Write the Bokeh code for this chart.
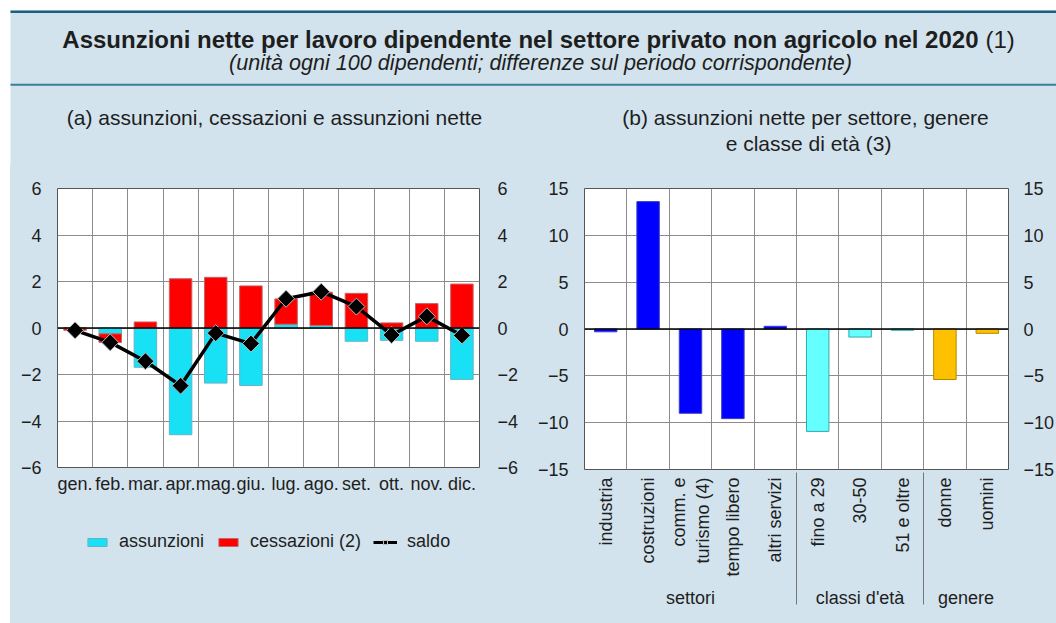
import math
from bokeh.plotting import figure
from bokeh.models import (FactorRange, Range1d, LinearAxis, FixedTicker, Label,
                          BoxAnnotation, Legend, LegendItem, Span, Spacer)
from bokeh.layouts import column, row
from bokeh.embed import file_html
from bokeh.resources import INLINE

# ---------------- data ----------------
mesi = ["gen.", "feb.", "mar.", "apr.", "mag.", "giu.", "lug.", "ago.", "set.", "ott.", "nov.", "dic."]
assunzioni = [0.0, -0.25, -1.69, -4.59, -2.37, -2.47, 0.16, 0.11, -0.57, -0.53, -0.57, -2.21]
cessazioni = [-0.10, -0.37, 0.26, 2.12, 2.18, 1.81, 1.09, 1.43, 1.49, 0.22, 1.05, 1.89]
saldo = [-0.10, -0.62, -1.43, -2.48, -0.22, -0.67, 1.26, 1.56, 0.92, -0.30, 0.50, -0.32]

gruppi = ["settori"] * 5 + ["classi d'età"] * 3 + ["genere"] * 2
categorie = ["industria", "costruzioni", "comm. e\nturismo (4)", "tempo libero", "altri servizi",
             "fino a 29", "30-50", "51 e oltre", "donne", "uomini"]
valori = [-0.30, 13.6, -9.0, -9.57, 0.29, -10.93, -0.86, -0.14, -5.39, -0.46]

ticks_a = [-6, -4, -2, 0, 2, 4, 6]
ticks_b = [-15, -10, -5, 0, 5, 10, 15]

# ---------------- style ----------------
BG = "#D2E3ED"
FONT = "Liberation Sans"
TXT = "#1e1e1e"
GRID = "#8c8c8c"
CYAN, CYAN_L = "#19E1F5", "#62B4C4"
RED, RED_L = "#FF0000", "#C06868"
col_fill = {"settori": "#0000FF", "classi d'età": "#66FFFF", "genere": "#FFC000"}
col_line = {"settori": "#4040C0", "classi d'età": "#33AAAA", "genere": "#B08A00"}


def style_axis(ax, standoff, size="18px"):
    ax.major_label_text_font = FONT
    ax.major_label_text_font_size = size
    ax.major_label_text_color = TXT
    ax.major_tick_out = 0
    ax.major_tick_in = 0
    ax.minor_tick_out = 0
    ax.minor_tick_in = 0
    ax.axis_line_color = None
    ax.major_label_standoff = standoff


def lab(fig, x, y, text, size, style="normal", align="center"):
    fig.add_layout(Label(x=x, y=y, text=text, text_align=align, text_baseline="middle",
                         text_font=FONT, text_font_style=style, text_font_size=size,
                         text_color=TXT))


def draw_panel_a(fig, visible=True):
    c_bottom = [a if a * c > 0 else 0 for a, c in zip(assunzioni, cessazioni)]
    c_top = [b + c for b, c in zip(c_bottom, cessazioni)]
    rA = fig.vbar(x=mesi, bottom=0, top=assunzioni, width=0.64, fill_color=CYAN,
                  line_color=CYAN_L, line_width=1, visible=visible)
    rC = fig.vbar(x=mesi, bottom=c_bottom, top=c_top, width=0.64, fill_color=RED,
                  line_color=RED_L, line_width=1, visible=visible)
    if visible:
        fig.add_layout(Span(location=0, dimension="width", line_color="black", line_width=1.5))
    rS = fig.line(x=mesi, y=saldo, line_color="black", line_width=3.5 if visible else 3,
                  visible=visible)
    rM = fig.scatter(x=mesi, y=saldo, marker="square", angle=math.pi / 4, size=12,
                     fill_color="black", line_color="#BBBBBB", line_width=1, visible=visible)
    return rA, rC, rS, rM


# ---------------- top band (titles) ----------------
TOP_H = 165
pT = figure(width=1056, height=TOP_H, x_range=Range1d(0, 1056), y_range=Range1d(0, TOP_H),
            x_axis_type=None, y_axis_type=None, min_border=0, toolbar_location=None,
            output_backend="svg", background_fill_color="white", border_fill_color="white",
            outline_line_color=None)
pT.xgrid.visible = False
pT.ygrid.visible = False
pT.add_layout(BoxAnnotation(left=10, right=1060, bottom=-5, top=155, fill_color=BG, fill_alpha=1, line_alpha=0))
pT.add_layout(BoxAnnotation(left=10, right=1060, bottom=152.5, top=155, fill_color="#1E5E7E", fill_alpha=1, line_alpha=0))
pT.add_layout(BoxAnnotation(left=10, right=1060, bottom=79.7, top=81.7, fill_color="#3F7E99", fill_alpha=1, line_alpha=0))
lab(pT, 978, 126, "Assunzioni nette per lavoro dipendente nel settore privato non agricolo nel 2020",
    "24px", "bold", "right")
lab(pT, 985, 126, "(1)", "24px", "normal", "left")
lab(pT, 540, 103, "(unità ogni 100 dipendenti; differenze sul periodo corrispondente)", "21.6px", "italic")
lab(pT, 274, 48, "(a) assunzioni, cessazioni e assunzioni nette", "21px")
lab(pT, 805, 48, "(b) assunzioni nette per settore, genere", "21px")
lab(pT, 808, 22, "e classe di età (3)", "21px")

# ---------------- panel (a) ----------------
pL = figure(x_range=FactorRange(*mesi), y_range=Range1d(-6, 6),
            frame_width=422, frame_height=279, min_border_left=47, min_border_right=51,
            min_border_top=23, min_border_bottom=30, toolbar_location=None, output_backend="svg",
            background_fill_color="white", border_fill_color=BG, outline_line_color="#555555")
pL.xgrid.ticker = FixedTicker(ticks=list(range(1, len(mesi))))
pL.xgrid.grid_line_color = GRID
pL.ygrid.ticker = FixedTicker(ticks=ticks_a)
pL.ygrid.grid_line_color = GRID
pL.yaxis.ticker = FixedTicker(ticks=ticks_a)
style_axis(pL.yaxis[0], 16)
style_axis(pL.xaxis[0], 6)
yr = LinearAxis(ticker=FixedTicker(ticks=ticks_a))
style_axis(yr, 18)
pL.add_layout(yr, "right")
draw_panel_a(pL)

# ---------------- legend strip for panel (a) ----------------
LEG_H = 458 - (23 + 279 + 30)
pLeg = figure(width=520, height=LEG_H, x_range=FactorRange(*mesi), y_range=Range1d(-6, 6),
              x_axis_type=None, y_axis_type=None, min_border=0, toolbar_location=None,
              output_backend="svg", background_fill_color=BG, border_fill_color=BG,
              outline_line_color=None)
pLeg.xgrid.visible = False
pLeg.ygrid.visible = False
gA, gC, gS, gM = draw_panel_a(pLeg, visible=False)
legend = Legend(items=[LegendItem(label="assunzioni", renderers=[gA]),
                       LegendItem(label="cessazioni (2)", renderers=[gC]),
                       LegendItem(label="saldo", renderers=[gS, gM])],
                orientation="horizontal", location=(28, LEG_H - 55), label_text_font=FONT,
                label_text_font_size="18px", label_text_color=TXT, glyph_width=24, glyph_height=10,
                label_height=20, label_standoff=10, spacing=12, padding=0, margin=0,
                border_line_color=None, background_fill_alpha=0, click_policy="none")
pLeg.add_layout(legend)

# ---------------- panel (b) ----------------
fattori = list(zip(gruppi, categorie))
pR = figure(x_range=FactorRange(*fattori, group_padding=0, factor_padding=0), y_range=Range1d(-15, 15),
            frame_width=424, frame_height=281, min_border_left=54, min_border_right=48,
            min_border_top=23, min_border_bottom=154, toolbar_location=None, output_backend="svg",
            background_fill_color="white", border_fill_color=BG, outline_line_color="#555555")
pR.xgrid.ticker = FixedTicker(ticks=list(range(1, len(categorie))))
pR.xgrid.grid_line_color = GRID
pR.ygrid.ticker = FixedTicker(ticks=ticks_b)
pR.ygrid.grid_line_color = GRID
pR.yaxis.ticker = FixedTicker(ticks=ticks_b)
style_axis(pR.yaxis[0], 16)
xa = pR.xaxis[0]
style_axis(xa, 8)
xa.major_label_orientation = math.pi / 2
xa.group_text_font = FONT
xa.group_text_font_size = "18px"
xa.group_text_font_style = "normal"
xa.group_text_color = TXT
xa.group_label_orientation = "horizontal"
xa.separator_line_color = "#777777"
xa.separator_line_width = 1
yr2 = LinearAxis(ticker=FixedTicker(ticks=ticks_b))
style_axis(yr2, 15)
pR.add_layout(yr2, "right")

pR.vbar(x=fattori, top=valori, bottom=0, width=0.53,
        fill_color=[col_fill[g] for g in gruppi], line_color=[col_line[g] for g in gruppi], line_width=1)
pR.add_layout(Span(location=0, dimension="width", line_color="black", line_width=1.5))

body = row(column(pL, pLeg, spacing=0), pR, spacing=0, styles={"background-color": BG})
layout = column(pT, row(Spacer(width=10, height=458), body, spacing=0), spacing=0)
open("out.html", "w").write(file_html(layout, INLINE))
